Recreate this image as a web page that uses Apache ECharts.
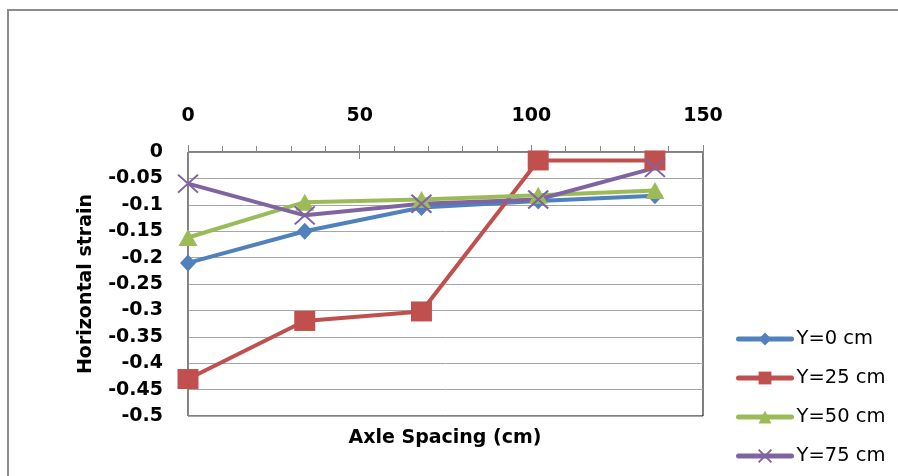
<!DOCTYPE html>
<html><head><meta charset="utf-8">
<script src="https://cdn.jsdelivr.net/npm/echarts@6/dist/echarts.min.js"></script>
<style>html,body{margin:0;padding:0;background:#fff}#c{width:898px;height:476px}</style>
</head><body><div id="c"></div>
<script>
const xValues = [0, 34, 68, 102, 136];
const seriesNames = ['Y=0 cm', 'Y=25 cm', 'Y=50 cm', 'Y=75 cm'];
const y0 = [-0.21, -0.15, -0.105, -0.093, -0.083];
const y25 = [-0.43, -0.32, -0.302, -0.016, -0.016];
const y50 = [-0.162, -0.095, -0.09, -0.082, -0.073];
const y75 = [-0.06, -0.12, -0.098, -0.09, -0.03];
const xTicks = {min: 0, max: 150, interval: 50};
const yTicks = {min: -0.5, max: 0, interval: 0.05};
const xTitle = 'Axle Spacing (cm)';
const yTitle = 'Horizontal strain';

const FONT = '"DejaVu Sans", sans-serif';
const pairs = a => xValues.map((x, i) => [x, a[i]]);
const colors = ['#4F81BD', '#C0504D', '#9BBB59', '#8064A2'];
const symbols = [
  {symbol: 'diamond', symbolSize: [16, 17]},
  {symbol: 'rect', symbolSize: [21, 20]},
  {symbol: 'triangle', symbolSize: [19, 17]},
  {symbol: 'path://M0,0L10,10M10,0L0,10', symbolSize: [20, 18]}
];
const data = [y0, y25, y50, y75];

const chart = echarts.init(document.getElementById('c'), null, {renderer: 'canvas'});
chart.setOption({
  animation: false,
  backgroundColor: '#fff',
  grid: {left: 188, right: 195, top: 152, bottom: 60, show: true, borderColor: '#000', borderWidth: 1, backgroundColor: 'transparent'},
  xAxis: [{
    type: 'value', position: 'top', min: xTicks.min, max: xTicks.max, interval: xTicks.interval,
    axisLine: {show: true, lineStyle: {color: '#888', width: 1}},
    axisTick: {show: true, length: 7, lineStyle: {color: '#888'}},
    minorTick: {show: true, splitNumber: 5, length: 6, lineStyle: {color: '#888'}},
    splitLine: {show: false},
    axisLabel: {fontFamily: FONT, fontSize: 19, fontWeight: 'bold', color: '#000', margin: 26}
  }, {
    type: 'value', position: 'top', min: xTicks.min, max: xTicks.max, interval: xTicks.interval,
    axisLine: {show: false},
    axisTick: {show: true, inside: true, length: 7, lineStyle: {color: '#888'}},
    axisLabel: {show: false}, splitLine: {show: false}
  }],
  yAxis: {
    type: 'value', min: yTicks.min, max: yTicks.max, interval: yTicks.interval,
    name: yTitle, nameLocation: 'middle', nameRotate: 90, nameGap: 92,
    nameTextStyle: {fontFamily: FONT, fontSize: 19, fontWeight: 'bold', color: '#000'},
    axisLine: {show: true, lineStyle: {color: '#888', width: 1}},
    axisTick: {show: false},
    splitLine: {show: true, lineStyle: {color: '#a6a6a6', width: 1}},
    axisLabel: {fontFamily: FONT, fontSize: 19, fontWeight: 'bold', color: '#000', margin: 25,
      formatter: v => String(parseFloat(v.toFixed(2)))}
  },
  legend: {
    orient: 'vertical', left: 736, top: 329, padding: 0, itemWidth: 53, itemHeight: 16, itemGap: 19,
    lineStyle: {width: 5, cap: 'round'},
    textStyle: {fontFamily: FONT, fontSize: 19.5, color: '#000', lineHeight: 16, padding: [0, 0, 0, 0]},
    data: seriesNames
  },
  graphic: [
    {type: 'rect', shape: {x: 8, y: 10, width: 2000, height: 2000}, style: {fill: 'none', stroke: '#8c8c8c', lineWidth: 2}, silent: true},
    {type: 'text', x: 445, y: 438, style: {text: xTitle, font: 'bold 19px "DejaVu Sans", sans-serif', fill: '#000', align: 'center', verticalAlign: 'middle'}}
  ],
  series: data.map((d, i) => Object.assign({
    name: seriesNames[i], type: 'line', data: pairs(d),
    lineStyle: {color: colors[i], width: 4},
    itemStyle: i === 3 ? {color: 'rgba(0,0,0,0)', borderColor: colors[i], borderWidth: 2} : {color: colors[i]},
    showAllSymbol: true
  }, symbols[i]))
});
</script></body></html>
